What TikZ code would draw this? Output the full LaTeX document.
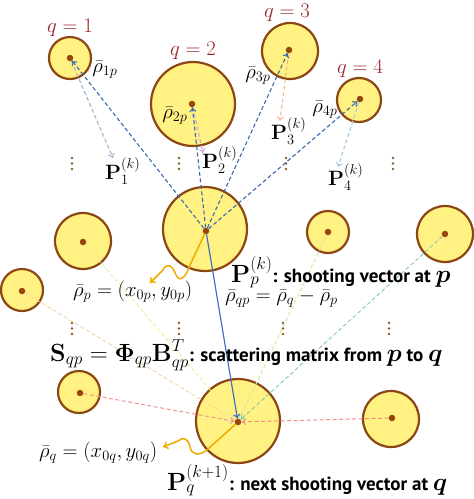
\documentclass[tikz,border=0pt]{standalone}
\usepackage{amsmath,bm}
\usepackage[no-math]{fontspec}
\newfontfamily\labelsans{PT Sans}
\usetikzlibrary{arrows.meta}
\definecolor{cfill}{RGB}{255,242,130}
\definecolor{cring}{RGB}{140,70,20}
\definecolor{cdotc}{RGB}{150,70,10}
\definecolor{qred}{RGB}{155,35,45}
\definecolor{pqblue}{RGB}{60,105,175}
\definecolor{sblue}{RGB}{70,110,195}
\definecolor{worange}{RGB}{240,170,0}
\definecolor{vdotc}{RGB}{140,90,40}
\definecolor{la1}{RGB}{165,178,205}
\definecolor{la2}{RGB}{200,165,225}
\definecolor{la3}{RGB}{245,185,150}
\definecolor{la4}{RGB}{165,205,230}
\definecolor{lq6}{RGB}{215,230,160}
\definecolor{lq7}{RGB}{140,205,175}
\definecolor{lq8}{RGB}{245,235,160}
\definecolor{lq9}{RGB}{245,215,170}
\definecolor{lq10}{RGB}{240,150,150}
\definecolor{lq12}{RGB}{240,140,140}
\tikzset{
  disk/.style={circle, draw=cring, line width=2.2pt, fill=cfill, inner sep=0pt, minimum size=#1},
  cdot/.style={circle, fill=cdotc, inner sep=0pt, minimum size=6.5pt},
  qlab/.style={text=qred, font=\fontsize{21}{24}\selectfont, inner sep=0pt, anchor=base},
  rlab/.style={font=\fontsize{21}{24}\selectfont, inner sep=0pt, anchor=base},
  plab/.style={font=\fontsize{22}{26}\selectfont, inner sep=0pt, anchor=base west},
  mlab/.style={font=\fontsize{21}{25}\selectfont, inner sep=0pt, anchor=base west},
  blab/.style={font=\fontsize{25}{29}\selectfont, inner sep=0pt, anchor=base west},
  tip/.style={-{To[length=4.5pt,width=7pt]}},
  pqline/.style={tip, draw=pqblue, dashed, dash pattern=on 4pt off 2.5pt, line width=1.1pt},
  paline/.style={tip, dashed, dash pattern=on 4pt off 2.5pt, line width=1.1pt},
  toq/.style={tip, dashed, dash pattern=on 4pt off 2.5pt, line width=1pt},
  wavy/.style={-{To[length=5pt,width=8pt]}, draw=worange, line width=1.5pt},
  vdotdot/.style={fill=vdotc},
}
\newcommand{\sanst}[1]{{\labelsans\bfseries\fontsize{19}{22}\selectfont #1}}
\begin{document}
\begin{tikzpicture}[x=1pt,y=-1pt]
\useasboundingbox (0,0) rectangle (474,499);
% vertical dots
\foreach \x/\y in {72/158,179/158,286/158,393/158,72/323,179/323,283/323,389/323}{
  \foreach \k in {0,5.5,11}{\fill[vdotdot] (\x,\y+\k) circle (1.3pt);}
}
% disks
\node[disk=42pt] (c1) at (70,58) {};
\node[disk=84pt] (c2) at (193,104) {};
\node[disk=56pt] (c3) at (290,51) {};
\node[disk=44pt] (c4) at (359,100) {};
\node[disk=84pt] (cp) at (205,229) {};
\node[disk=42pt] (c6) at (328,232) {};
\node[disk=56pt] (c7) at (445,234) {};
\node[disk=56pt] (c8) at (83,241) {};
\node[disk=42pt] (c9) at (22,290) {};
\node[disk=42pt] (c10) at (79,392) {};
\node[disk=84pt] (cq) at (238,421) {};
\node[disk=56pt] (c12) at (391,419) {};
% center dots
\node[cdot] (d1) at (70,58) {};
\node[cdot] (d2) at (192,104) {};
\node[cdot] (d3) at (289,50) {};
\node[cdot] (d4) at (360,99) {};
\node[cdot] (dp) at (206,231) {};
\node[cdot] (d6) at (328,232) {};
\node[cdot] (d7) at (445,234) {};
\node[cdot] (d8) at (83,242) {};
\node[cdot] (d9) at (22,291) {};
\node[cdot] (d10) at (80,393) {};
\node[cdot] (dq) at (238,422) {};
\node[cdot] (d12) at (392,418) {};
% labels q
\node[qlab] (q1) at (70,32) {$q=1$};
\node[qlab] (q2) at (193,55) {$q=2$};
\node[qlab] (q3) at (287,17) {$q=3$};
\node[qlab] (q4) at (360,73) {$q=4$};
% rho labels
\node[rlab] (r1) at (105,72) {$\bar\rho_{1p}$};
\node[rlab] (r2) at (175,118) {$\bar\rho_{2p}$};
\node[rlab] (r3) at (258,78) {$\bar\rho_{3p}$};
\node[rlab] (r4) at (325,112) {$\bar\rho_{4p}$};
% P labels
\node[plab] (P1) at (105,179) {$\mathbf{P}_1^{(k)}$};
\node[plab] (P2) at (202,168) {$\mathbf{P}_2^{(k)}$};
\node[plab] (P3) at (271,139) {$\mathbf{P}_3^{(k)}$};
\node[plab] (P4) at (328,185) {$\mathbf{P}_4^{(k)}$};
\coordinate (a1) at (113,158);
\coordinate (a2) at (203,153);
\coordinate (a3) at (280,121);
\coordinate (a4) at (338,167);
% connectors to q from other disks
\draw[toq, draw=lq9] (d9) -- (dq);
\draw[toq, draw=lq8] (d8) -- (dq);
\draw[toq, draw=lq6] (d6) -- (dq);
\draw[toq, draw=lq7] (d7) -- (dq);
\draw[toq, draw=lq10] (d10) -- (dq);
\draw[toq, draw=lq12] (d12) -- (dq);
% q_i -> P_i
\draw[paline, draw=la1] (d1) -- (a1);
\draw[paline, draw=la2] (d2) -- (a2);
\draw[paline, draw=la3] (d3) -- (a3);
\draw[paline, draw=la4] (d4) -- (a4);
% p -> q_i
\draw[pqline] (dp) -- (d1);
\draw[pqline] (dp) -- (d2);
\draw[pqline] (dp) -- (d3);
\draw[pqline] (dp) -- (d4);
% p -> q solid
\draw[tip, draw=sblue, line width=1.2pt] (dp) -- (dq);
% wavy arrows
\coordinate (w1) at (150,283);
\coordinate (w2) at (163,447);
\draw[wavy] (dp) -- (190,265) .. controls (186,277) and (180,283) .. (176,275)
   .. controls (172,264) and (166,263) .. (163,270) -- (w1);
\draw[wavy] (dq) -- (208,449) .. controls (200,456) and (192,456) .. (190,447)
   .. controls (188,437) and (182,437) .. (178,441) -- (w2);
% texts
\node[mlab] (rp) at (73,296) {$\bar\rho_p=(x_{0p},y_{0p})$};
\node[blab] (tp) at (231,282) {$\mathbf{P}_p^{(k)}$\sanst{: shooting vector at }$\bm{p}$};
\node[mlab] (rqp) at (225,301) {$\bar\rho_{qp}=\bar\rho_q-\bar\rho_p$};
\node[blab] (ts) at (50,361) {$\mathbf{S}_{qp}=\bm{\Phi}_{qp}\mathbf{B}_{qp}^T$\sanst{: scattering matrix from }$\bm{p}$\sanst{ to }$\bm{q}$};
\node[mlab] (rq) at (39,457) {$\bar\rho_q=(x_{0q},y_{0q})$};
\node[blab] (tq) at (167,490) {$\mathbf{P}_q^{(k+1)}$\sanst{: next shooting vector at }$\bm{q}$};
\end{tikzpicture}
\end{document}
